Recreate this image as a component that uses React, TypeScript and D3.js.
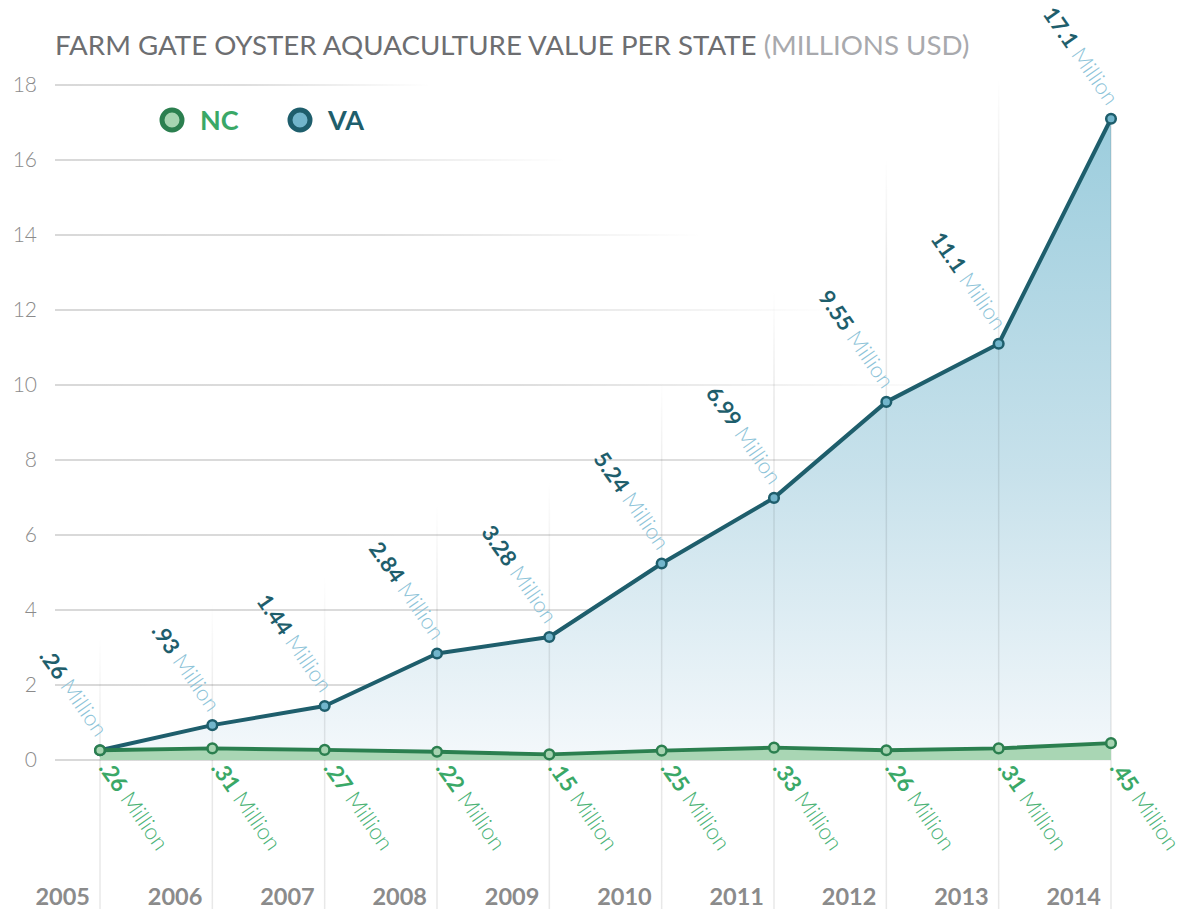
import React from 'react';
import * as d3 from 'd3';

const years = ['2005', '2006', '2007', '2008', '2009', '2010', '2011', '2012', '2013', '2014'];
const vaValues = [0.26, 0.93, 1.44, 2.84, 3.28, 5.24, 6.99, 9.55, 11.1, 17.1];
const ncValues = [0.26, 0.31, 0.27, 0.22, 0.15, 0.25, 0.33, 0.26, 0.31, 0.45];
const yTicks = [0, 2, 4, 6, 8, 10, 12, 14, 16, 18];
const legendNames = ['NC', 'VA'];
const titleMain = 'FARM GATE OYSTER AQUACULTURE VALUE PER STATE';
const titleUnit = '(MILLIONS USD)';
const unitWord = 'Million';

const W = 1189;
const H = 909;
const FONT = 'Lato, "Open Sans", sans-serif';

const C = {
  vaLine: '#1e5e6c',
  vaDot: '#72b5cb',
  vaValue: '#1e5e6c',
  vaUnit: '#8cc3d8',
  ncLine: '#2b7f4f',
  ncDot: '#a6d4b1',
  ncArea: '#a9d6b4',
  ncValue: '#3aa867',
  ncUnit: '#4cb377',
  axis: '#8b8b8b',
  title: '#6d6e71',
  titleUnit: '#a8a9ad',
};

const fmt = (v: number) => d3.format('.3~r')(v).replace(/^0\./, '.');

export default function App() {
  const x = d3.scalePoint<string>().domain(years).range([100, 1111]);
  const y = d3.scaleLinear().domain([0, 18]).range([760, 85]);

  const vaData = years.map((yr, i) => ({ yr, v: vaValues[i] }));
  const ncData = years.map((yr, i) => ({ yr, v: ncValues[i] }));

  const area = d3
    .area<{ yr: string; v: number }>()
    .x((d) => x(d.yr)!)
    .y0(y(0))
    .y1((d) => y(d.v));
  const line = d3
    .line<{ yr: string; v: number }>()
    .x((d) => x(d.yr)!)
    .y((d) => y(d.v));

  const gridLeft = 55;
  const gridRight = x(years[years.length - 1])!;
  const angle = 55;
  const last = years.length - 1;
  const vTop = (i: number) =>
    i === last ? y(vaValues[i]) : y(vaValues[i]) - (110 + 14 * vaValues[i]);

  return (
    <svg
      width={W}
      height={H}
      style={{ position: 'absolute', left: 0, top: 0, fontFamily: FONT }}
    >
      <defs>
        <linearGradient id="vaFill" gradientUnits="userSpaceOnUse" x1={0} x2={0} y1={y(d3.max(vaValues)!)} y2={y(0)}>
          <stop offset="0" stopColor="#9ccddd" />
          <stop offset="0.55" stopColor="#c7e1eb" />
          <stop offset="1" stopColor="#f4f8fb" />
        </linearGradient>
        {yTicks.map((t) => {
          const fadeEnd = t > 8 ? gridRight - (t - 8) * 68 : gridRight + 200;
          return (
            <linearGradient
              key={t}
              id={`hg${t}`}
              gradientUnits="userSpaceOnUse"
              x1={gridLeft}
              x2={fadeEnd}
              y1={0}
              y2={0}
            >
              <stop offset="0" stopColor="#000" stopOpacity={0.15} />
              <stop offset="0.5" stopColor="#000" stopOpacity={0.13} />
              <stop offset="1" stopColor="#000" stopOpacity={0} />
            </linearGradient>
          );
        })}
        {years.map((yr, i) => {
          const top = vTop(i);
          return (
            <linearGradient
              key={yr}
              id={`vg${i}`}
              gradientUnits="userSpaceOnUse"
              x1={0}
              x2={0}
              y1={top}
              y2={i === last ? top + 1 : top + 110}
            >
              <stop offset="0" stopColor="#000" stopOpacity={i === last ? 0.09 : 0} />
              <stop offset="1" stopColor="#000" stopOpacity={0.09} />
            </linearGradient>
          );
        })}
      </defs>

      {/* Title */}
      <text x={55} y={55} fontSize={27.7} fill={C.title}>
        {titleMain}
        <tspan fill={C.titleUnit}>{' ' + titleUnit}</tspan>
      </text>

      {/* Horizontal grid */}
      {yTicks.map((t) => (
        <line
          key={t}
          x1={gridLeft}
          x2={gridRight}
          y1={y(t)}
          y2={y(t)}
          stroke={`url(#hg${t})`}
          strokeWidth={2}
        />
      ))}

      {/* Y tick labels */}
      {yTicks.map((t) => (
        <text
          key={t}
          x={37}
          y={y(t)}
          dy="0.35em"
          textAnchor="end"
          fontSize={21}
          fontWeight={300}
          fill={C.axis}
        >
          {t}
        </text>
      ))}

      {/* VA area */}
      <path d={area(vaData)!} fill="url(#vaFill)" />

      {/* Vertical grid */}
      {years.map((yr, i) => (
        <line
          key={yr}
          x1={x(yr)}
          x2={x(yr)}
          y1={vTop(i)}
          y2={H}
          stroke={`url(#vg${i})`}
          strokeWidth={1.5}
        />
      ))}

      {/* NC area */}
      <path d={area(ncData)!} fill={C.ncArea} />

      {/* Lines */}
      <path d={line(vaData)!} fill="none" stroke={C.vaLine} strokeWidth={4} strokeLinejoin="round" />
      <path d={line(ncData)!} fill="none" stroke={C.ncLine} strokeWidth={4} strokeLinejoin="round" />

      {/* Markers */}
      {vaData.map((d) => (
        <circle key={'va' + d.yr} cx={x(d.yr)} cy={y(d.v)} r={4.8} fill={C.vaDot} stroke={C.vaLine} strokeWidth={2.5} />
      ))}
      {ncData.map((d) => (
        <circle key={'nc' + d.yr} cx={x(d.yr)} cy={y(d.v)} r={4.8} fill={C.ncDot} stroke={C.ncLine} strokeWidth={2.5} />
      ))}

      {/* VA labels */}
      {vaData.map((d) => (
        <text
          key={'val' + d.yr}
          transform={`translate(${x(d.yr)! - 4},${y(d.v) - 12}) rotate(${angle})`}
          textAnchor="end"
          fontSize={22}
        >
          <tspan fill={C.vaValue} fontWeight={700}>{fmt(d.v)}</tspan>
          <tspan fill={C.vaUnit} fontWeight={300}>{' ' + unitWord}</tspan>
        </text>
      ))}

      {/* NC labels */}
      {ncData.map((d) => (
        <text
          key={'ncl' + d.yr}
          transform={`translate(${x(d.yr)! - 2},${y(0) + 8}) rotate(${angle})`}
          textAnchor="start"
          fontSize={22.5}
        >
          <tspan fill={C.ncValue} fontWeight={700}>{fmt(d.v)}</tspan>
          <tspan fill={C.ncUnit} fontWeight={300}>{' ' + unitWord}</tspan>
        </text>
      ))}

      {/* Year labels */}
      {years.map((yr) => (
        <text
          key={'yr' + yr}
          x={x(yr)! - 10}
          y={905}
          textAnchor="end"
          fontSize={23.5}
          fontWeight={700}
          fill={C.axis}
        >
          {yr}
        </text>
      ))}

      {/* Legend */}
      {legendNames.map((name, i) => {
        const cx = 172 + i * 128;
        const isNC = name === 'NC';
        return (
          <g key={name}>
            <circle
              cx={cx}
              cy={120}
              r={10}
              fill={isNC ? C.ncDot : C.vaDot}
              stroke={isNC ? C.ncLine : C.vaLine}
              strokeWidth={5}
            />
            <text
              x={cx + 28}
              y={130}
              fontSize={27}
              fontWeight={700}
              fill={isNC ? C.ncValue : C.vaValue}
            >
              {name}
            </text>
          </g>
        );
      })}
    </svg>
  );
}
